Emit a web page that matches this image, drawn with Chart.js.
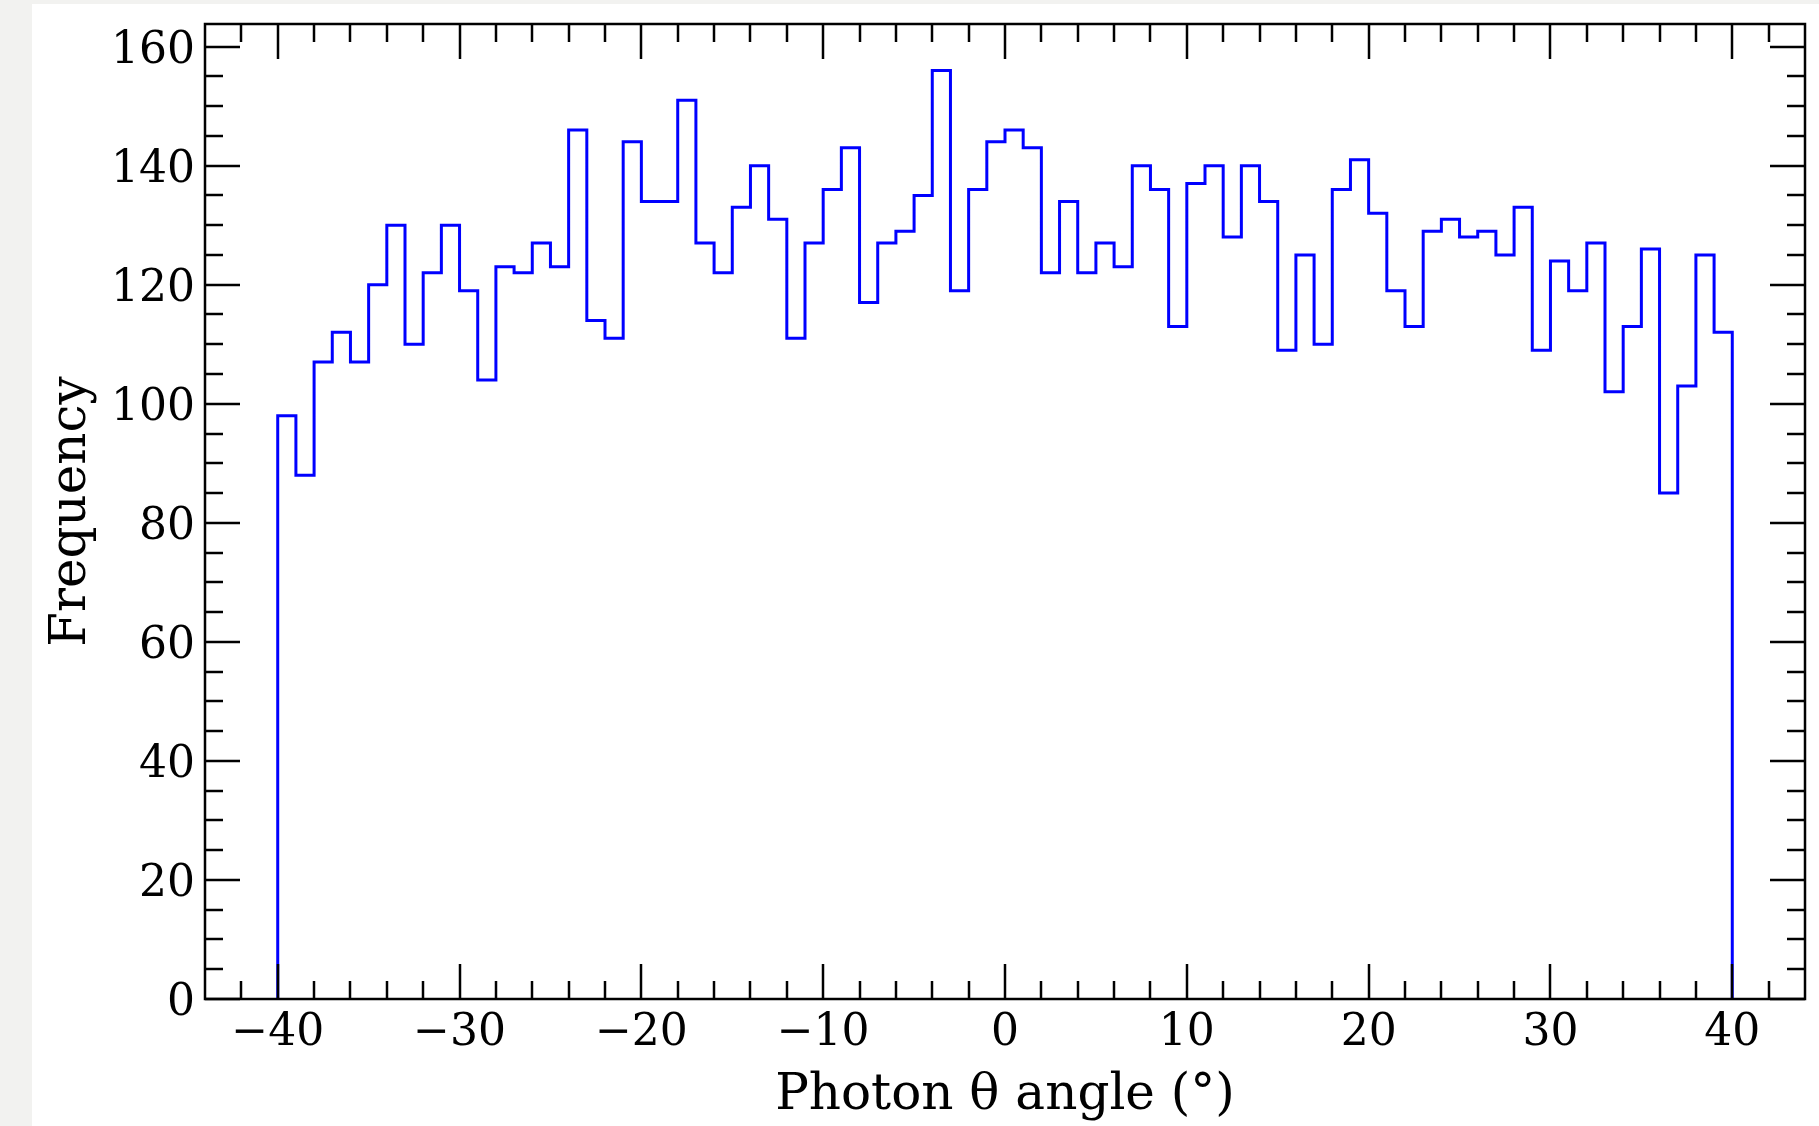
<!DOCTYPE html>
<html>
<head>
<meta charset="utf-8">
<script src="https://cdn.jsdelivr.net/npm/chart.js@4.4.1/dist/chart.umd.min.js"></script>
<style>
  html, body { margin: 0; padding: 0; background: #f2f2f0; }
  #paper { position: absolute; left: 32px; top: 4px; right: 0; bottom: 0; background: #fff; }
  #chart { position: absolute; left: 0; top: 0; }
</style>
</head>
<body>
<div id="paper"></div>
<canvas id="chart" width="1819" height="1126"></canvas>
<script>
// histogram of photon theta angle, 1 degree bins from -40 to 40
const BIN_START = -40
const BIN_WIDTH = 1
const counts = [
   98,  88, 107, 112, 107, 120, 130, 110, 122, 130,
  119, 104, 123, 122, 127, 123, 146, 114, 111, 144,
  134, 134, 151, 127, 122, 133, 140, 131, 111, 127,
  136, 143, 117, 127, 129, 135, 156, 119, 136, 144,
  146, 143, 122, 134, 122, 127, 123, 140, 136, 113,
  137, 140, 128, 140, 134, 109, 125, 110, 136, 141,
  132, 119, 113, 129, 131, 128, 129, 125, 133, 109,
  124, 119, 127, 102, 113, 126,  85, 103, 125, 112
]
const xTicks = [-40, -30, -20, -10, 0, 10, 20, 30, 40]
const xMinorTicks = [-42, -38, -36, -34, -32, -28, -26, -24, -22, -18, -16, -14, -12,
  -8, -6, -4, -2, 2, 4, 6, 8, 12, 14, 16, 18, 22, 24, 26, 28, 32, 34, 36, 38, 42]
const yTicks = [0, 20, 40, 60, 80, 100, 120, 140, 160]
const yMinorTicks = [5, 10, 15, 25, 30, 35, 45, 50, 55, 65, 70, 75, 85, 90, 95, 105,
  110, 115, 125, 130, 135, 145, 150, 155]

const X_MIN = -44, X_MAX = 44
const Y_MAX = 163.8

const MAJOR_LEN = 35
const MINOR_LEN = 18
const SERIF = '"DejaVu Serif", serif'

// step outline: up at the first edge, flat over each bin, down at the last edge
function stepPoints() {
    var pts = [{ x: BIN_START, y: 0 }]
    counts.forEach((c, i) => pts.push({ x: BIN_START + i * BIN_WIDTH, y: c }))
    var end = BIN_START + counts.length * BIN_WIDTH
    pts.push({ x: end, y: counts[counts.length - 1] })
    pts.push({ x: end, y: 0 })
    return pts
}

function fmtTick(v) {
    return v < 0 ? '\u2212' + Math.abs(v) : String(v)
}

// matplotlib style: ticks pointing inward on all four sides, box frame
const inwardTicks = {
    id: 'inwardTicks',
    afterDatasetsDraw(chart) {
        const { ctx, chartArea: a, scales: { x, y } } = chart
        ctx.save()
        ctx.strokeStyle = '#000'
        ctx.lineWidth = 2.5
        ctx.lineCap = 'butt'
        function seg(x1, y1, x2, y2) {
            ctx.beginPath(); ctx.moveTo(x1, y1); ctx.lineTo(x2, y2); ctx.stroke()
        }
        function xt(list, len) {
            list.forEach(v => {
                var px = Math.round(x.getPixelForValue(v))
                seg(px, a.bottom, px, a.bottom - len)
                seg(px, a.top, px, a.top + len)
            })
        }
        function yt(list, len) {
            list.forEach(v => {
                var py = Math.round(y.getPixelForValue(v))
                seg(a.left, py, a.left + len, py)
                seg(a.right, py, a.right - len, py)
            })
        }
        xt(xMinorTicks, MINOR_LEN)
        xt(xTicks, MAJOR_LEN)
        yt(yMinorTicks, MINOR_LEN)
        yt(yTicks, MAJOR_LEN)
        ctx.strokeRect(a.left, a.top, a.right - a.left, a.bottom - a.top)
        ctx.restore()
    }
}

function main() {
    var ctx = document.getElementById('chart').getContext('2d')
    new Chart(ctx, {
        type: 'line',
        data: {
            datasets: [{
                data: stepPoints(),
                borderColor: '#0000ff',
                borderWidth: 3,
                pointRadius: 0,
                stepped: 'before',
                fill: false,
                tension: 0,
            }]
        },
        options: {
            responsive: false,
            animation: false,
            devicePixelRatio: 1,
            layout: { padding: { top: 24, right: 14, left: 0, bottom: 0 } },
            plugins: { legend: { display: false }, tooltip: { enabled: false } },
            scales: {
                x: {
                    type: 'linear',
                    min: X_MIN,
                    max: X_MAX,
                    grid: { display: false },
                    border: { display: false },
                    afterBuildTicks: s => { s.ticks = xTicks.map(v => ({ value: v })) },
                    afterFit: s => { s.height = 127; s.paddingLeft = 0; s.paddingRight = 0 },
                    ticks: {
                        color: '#000',
                        padding: 0,
                        maxRotation: 0,
                        font: { family: SERIF, size: 44 },
                        callback: v => fmtTick(v),
                    },
                    title: {
                        display: true,
                        text: 'Photon \u03b8 angle (\u00b0)',
                        color: '#000',
                        font: { family: SERIF, size: 50 },
                        padding: { top: 0, bottom: 0 },
                    },
                },
                y: {
                    type: 'linear',
                    min: 0,
                    max: Y_MAX,
                    grid: { display: false },
                    border: { display: false },
                    afterBuildTicks: s => { s.ticks = yTicks.map(v => ({ value: v })) },
                    afterFit: s => { s.width = 205; s.paddingTop = 0; s.paddingBottom = 0 },
                    ticks: {
                        color: '#000',
                        padding: 2,
                        labelOffset: 5,
                        font: { family: SERIF, size: 44 },
                        callback: v => fmtTick(v),
                    },
                    title: {
                        display: true,
                        text: 'Frequency',
                        color: '#000',
                        font: { family: SERIF, size: 50 },
                        padding: { top: 42, bottom: 0 },
                    },
                },
            },
        },
        plugins: [inwardTicks],
    })
}

window.onload = main
</script>
</body>
</html>
